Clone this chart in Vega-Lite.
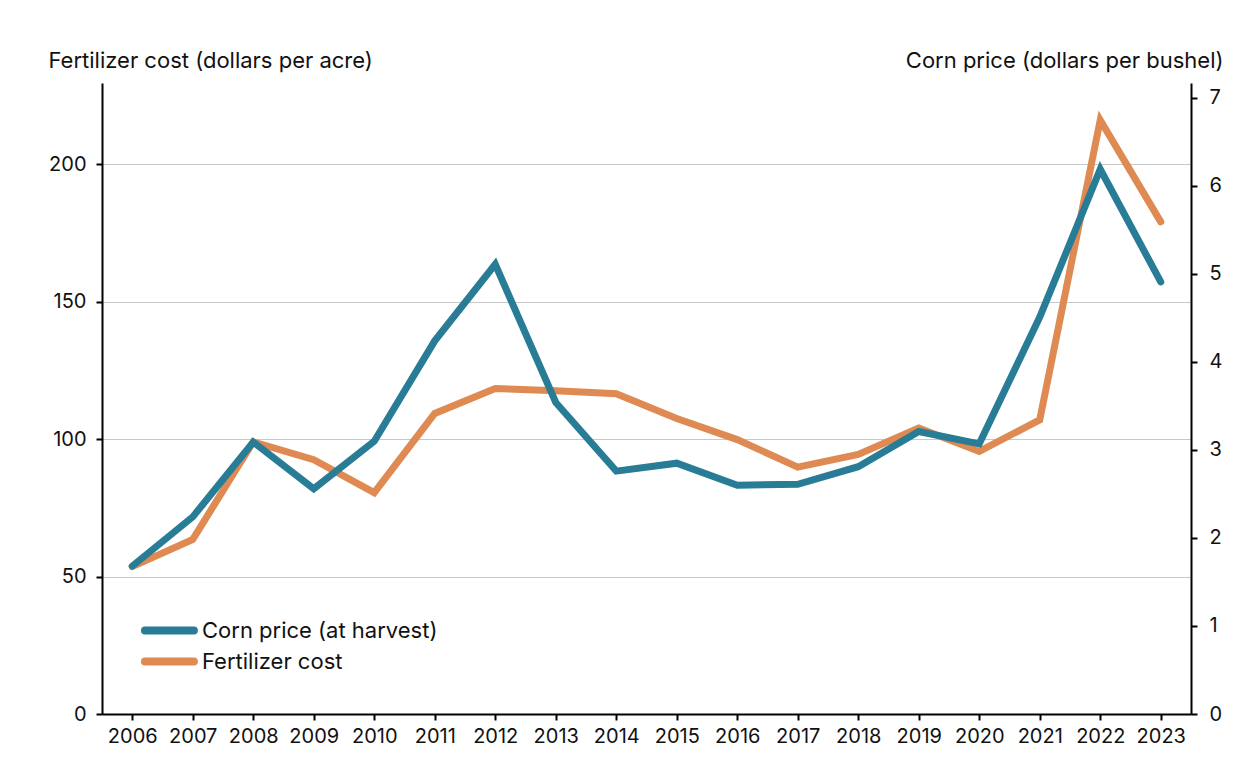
{
  "$schema": "https://vega.github.io/schema/vega-lite/v6.json",
  "width": 1089,
  "height": 631,
  "autosize": {"type": "none"},
  "padding": {"left": 102, "top": 83, "right": 58, "bottom": 64},
  "background": "white",
  "data": {
    "values": [
      {"year": "2006", "corn": 1.68, "fert": 53.6},
      {"year": "2007", "corn": 2.24, "fert": 63.5},
      {"year": "2008", "corn": 3.09, "fert": 99.0},
      {"year": "2009", "corn": 2.56, "fert": 92.5},
      {"year": "2010", "corn": 3.10, "fert": 80.5},
      {"year": "2011", "corn": 4.24, "fert": 109.3},
      {"year": "2012", "corn": 5.11, "fert": 118.4},
      {"year": "2013", "corn": 3.54, "fert": 117.6},
      {"year": "2014", "corn": 2.76, "fert": 116.5},
      {"year": "2015", "corn": 2.85, "fert": 107.5},
      {"year": "2016", "corn": 2.60, "fert": 99.8},
      {"year": "2017", "corn": 2.61, "fert": 89.8},
      {"year": "2018", "corn": 2.81, "fert": 94.4},
      {"year": "2019", "corn": 3.21, "fert": 104.0},
      {"year": "2020", "corn": 3.07, "fert": 95.5},
      {"year": "2021", "corn": 4.51, "fert": 107.0},
      {"year": "2022", "corn": 6.19, "fert": 216.0},
      {"year": "2023", "corn": 4.91, "fert": 179.0}
    ]
  },
  "encoding": {
    "x": {
      "field": "year",
      "type": "ordinal",
      "scale": {"type": "point", "padding": 0.5},
      "axis": {
        "title": null,
        "labelAngle": 0,
        "labelFontSize": 20,
        "labelPadding": 6,
        "tickSize": 6,
        "grid": false
      }
    }
  },
  "layer": [
    {
      "mark": {"type": "line", "strokeWidth": 7, "strokeCap": "round", "strokeJoin": "miter"},
      "encoding": {
        "y": {
          "field": "fert",
          "type": "quantitative",
          "scale": {"domain": [0, 229.5], "nice": false, "zero": true},
          "axis": {
            "orient": "left",
            "values": [0, 50, 100, 150, 200],
            "grid": true,
            "gridColor": "#c8c8c8",
            "gridWidth": 1.2,
            "title": "Fertilizer cost (dollars per acre)",
            "titleAngle": 0,
            "titleX": -54,
            "titleY": -16,
            "titleAlign": "left",
            "titleBaseline": "alphabetic",
            "labelPadding": 10
          }
        },
        "color": {
          "datum": "Fertilizer cost",
          "type": "nominal",
          "scale": {
            "domain": ["Corn price (at harvest)", "Fertilizer cost"],
            "range": ["#287C96", "#DE8A52"]
          },
          "legend": {
            "orient": "none",
            "legendX": 38,
            "legendY": 534,
            "title": null,
            "symbolType": "M-0.9,0L4.25,0",
            "symbolSize": 361,
            "symbolStrokeWidth": 8,
            "labelFontSize": 22,
            "labelFont": "Inter",
            "labelColor": "#111111",
            "rowPadding": -2,
            "labelOffset": 35,
            "padding": 0,
            "labelLimit": 400,
            "encode": {"symbols": {"update": {"strokeCap": {"value": "round"}}}}
          }
        }
      }
    },
    {
      "mark": {"type": "line", "strokeWidth": 7, "strokeCap": "round", "strokeJoin": "miter"},
      "encoding": {
        "y": {
          "field": "corn",
          "type": "quantitative",
          "scale": {"domain": [0, 7.17], "nice": false, "zero": true},
          "axis": {
            "orient": "right",
            "values": [0, 1, 2, 3, 4, 5, 6, 7],
            "grid": false,
            "title": "Corn price (dollars per bushel)",
            "titleAngle": 0,
            "titleX": 32,
            "titleY": -16,
            "titleAlign": "right",
            "titleBaseline": "alphabetic",
            "labelPadding": 12
          }
        },
        "color": {"datum": "Corn price (at harvest)", "type": "nominal"}
      }
    }
  ],
  "resolve": {"scale": {"y": "independent"}},
  "config": {
    "font": "Inter",
    "view": {"stroke": null},
    "axis": {
      "labelFont": "Inter",
      "titleFont": "Inter",
      "labelFontSize": 20,
      "titleFontSize": 22,
      "titleFontWeight": "normal",
      "labelColor": "#111111",
      "titleColor": "#111111",
      "domainColor": "#000000",
      "domainWidth": 2,
      "tickColor": "#000000",
      "tickWidth": 2,
      "tickSize": 6
    }
  }
}
